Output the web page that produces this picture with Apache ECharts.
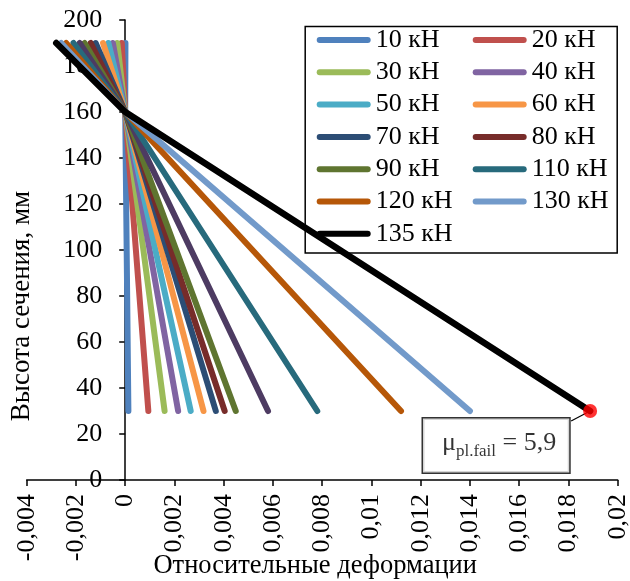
<!DOCTYPE html>
<html>
<head>
<meta charset="utf-8">
<script src="https://cdn.jsdelivr.net/npm/echarts@6/dist/echarts.min.js"></script>
<style>html,body{margin:0;padding:0;background:#fff;}#c{width:630px;height:581px;}</style>
</head>
<body>
<div id="c"></div>
<script>
// ---- data ----
const loads = ['10 кН','20 кН','30 кН','40 кН','50 кН','60 кН','70 кН','80 кН','90 кН','100 кН','110 кН','120 кН','130 кН','135 кН'];
const heights = [190, 160, 30];               // section height, mm (top fibre, neutral point, bottom gauge)
const strainTop = [0.00001,-0.00014,-0.00032,-0.0005,-0.00068,-0.0009,-0.0012,-0.0014,-0.00165,-0.00185,-0.0021,-0.0024,-0.0026,-0.0028];
const strainMid = [0,0,0,0,0,0,0,0,0,0,0,0,0,0];
const strainBottom = [0.00013,0.00094,0.0016,0.00215,0.00266,0.00318,0.00368,0.00404,0.00449,0.0058,0.0078,0.0112,0.0140,0.01888];
const failPoint = [0.01888, 30];
const failLabel = '5,9';
const legendCol1 = ['10 кН','30 кН','50 кН','70 кН','90 кН','120 кН','135 кН'];
const legendCol2 = ['20 кН','40 кН','60 кН','80 кН','110 кН','130 кН'];
const xTicks = [-0.004,-0.002,0,0.002,0.004,0.006,0.008,0.01,0.012,0.014,0.016,0.018,0.02];
const yTicks = [0,20,40,60,80,100,120,140,160,180,200];

// ---- style / layout ----
const palette = ['#4F81BD','#C0504D','#9BBB59','#8064A2','#4BACC6','#F79646','#2C4D75','#772C2A','#5F7530','#4D3B62','#276A7C','#B65708','#729ACA','#000000'];
const FONT = 'Liberation Serif';
const capsule = 'path://M3,0 L51,0 A3,3 0 0 1 51,6 L3,6 A3,3 0 0 1 3,0 Z';
const W = 630, GRID_L = 26.7, GRID_R = 12.3;
const xMin = xTicks[0], xMax = xTicks[xTicks.length - 1];
// shift the y axis (line, ticks, labels, name) onto x = 0
const yAxisOffset = -((0 - xMin) / (xMax - xMin)) * (W - GRID_L - GRID_R);
// callout box placement relative to the failure point (pixels)
const CALLOUT_DX = -94, CALLOUT_DY = 34.5, CALLOUT_W = 150, CALLOUT_H = 49;

const series = loads.map((name, i) => ({
  name: name,
  type: 'line',
  symbol: 'none',
  z: 2 + i,
  color: palette[i],
  lineStyle: { width: i === loads.length - 1 ? 6.5 : 6, color: palette[i], cap: 'round', join: 'round' },
  itemStyle: { color: palette[i] },
  data: heights.map((h, k) => [[strainTop[i], strainMid[i], strainBottom[i]][k], h])
}));

series.push({
  name: 'fail',
  type: 'scatter',
  z: 30,
  symbol: 'circle',
  symbolSize: 14,
  itemStyle: { color: '#FF0000' },
  data: [failPoint],
  label: {
    show: true,
    position: 'inside',
    formatter: '{mu|μ}{sub|pl.fail}{t| = ' + failLabel + '}',
    backgroundColor: '#fff',
    borderColor: '#000',
    borderWidth: 1.5,
    padding: [12, 13, 12, 19],
    rich: {
      mu: { fontFamily: FONT, fontSize: 26, color: '#000', lineHeight: 30, verticalAlign: 'top' },
      sub: { fontFamily: FONT, fontSize: 17, color: '#000', lineHeight: 20, padding: [13, 0, 0, 0], verticalAlign: 'top' },
      t: { fontFamily: FONT, fontSize: 26, color: '#000', lineHeight: 30, verticalAlign: 'top' }
    }
  },
  labelLayout: { dx: CALLOUT_DX, dy: CALLOUT_DY }
});

const legendCommon = {
  orient: 'vertical',
  top: 27,
  padding: 0,
  itemGap: 6.3,
  itemWidth: 54,
  itemHeight: 6,
  icon: capsule,
  textStyle: { fontFamily: FONT, fontSize: 26, color: '#000' }
};

const option = {
  animation: false,
  backgroundColor: '#fff',
  grid: { left: GRID_L, right: GRID_R, top: 20, bottom: 101, containLabel: false, outerBoundsMode: 'none' },
  xAxis: {
    type: 'value',
    min: xMin, max: xMax, interval: xTicks[1] - xTicks[0],
    name: 'Относительные деформации',
    nameLocation: 'middle',
    nameGap: 73,
    nameMoveOverlap: false,
    nameTextStyle: { fontFamily: FONT, fontSize: 26.5, color: '#000', padding: [0, 14, 0, 0] },
    axisLine: { onZero: true, lineStyle: { color: '#000', width: 1.5 } },
    axisTick: { show: true, inside: false, length: 6, lineStyle: { color: '#000', width: 1.5 } },
    splitLine: { show: false },
    axisLabel: {
      rotate: 90, margin: 14,
      fontFamily: FONT, fontSize: 26, color: '#000',
      formatter: v => String(+v.toFixed(6)).replace('.', ',')
    }
  },
  yAxis: {
    type: 'value',
    min: yTicks[0], max: yTicks[yTicks.length - 1], interval: yTicks[1] - yTicks[0],
    offset: yAxisOffset,
    name: 'Высота сечения, мм',
    nameLocation: 'middle',
    nameGap: 90,
    nameMoveOverlap: false,
    nameTextStyle: { fontFamily: FONT, fontSize: 27, color: '#000', padding: [0, 112, 0, 0] },
    axisLine: { show: true, onZero: false, lineStyle: { color: '#000', width: 1.5 } },
    axisTick: { show: true, inside: false, length: 6, lineStyle: { color: '#000', width: 1.5 } },
    splitLine: { show: false },
    axisLabel: { margin: 23, fontFamily: FONT, fontSize: 26, color: '#000' }
  },
  legend: [
    Object.assign({}, legendCommon, { left: 316.7, data: legendCol1 }),
    Object.assign({}, legendCommon, { left: 472.7, data: legendCol2 })
  ],
  graphic: [{
    id: 'legendFrame',
    type: 'rect', left: 302.7, top: 24, z: 100,
    shape: { width: 312, height: 226.5 },
    style: { fill: 'none', stroke: '#000', lineWidth: 1.5 }
  }],
  series: series
};

const chart = echarts.init(document.getElementById('c'), null, { renderer: 'canvas' });
chart.setOption(option);

// leader line from the failure point to the top-right corner of the callout box
const p = chart.convertToPixel({ seriesIndex: loads.length }, failPoint);
const corner = [p[0] + CALLOUT_DX + CALLOUT_W / 2, p[1] + CALLOUT_DY - CALLOUT_H / 2];
chart.setOption({
  graphic: [{
    id: 'leader', type: 'line', z: 20,
    shape: { x1: p[0], y1: p[1], x2: corner[0], y2: corner[1] },
    style: { stroke: '#000', lineWidth: 1.2 }
  }]
});
</script>
</body>
</html>
